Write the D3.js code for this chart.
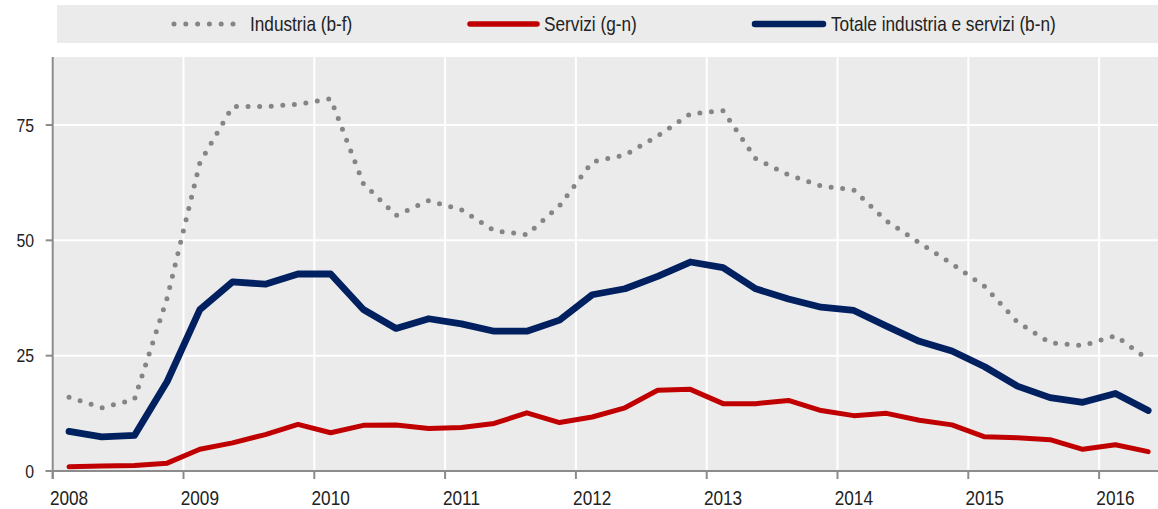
<!DOCTYPE html>
<html><head><meta charset="utf-8">
<script src="https://cdn.jsdelivr.net/npm/d3@7"></script>
<style>
html,body{margin:0;padding:0;background:#fff;}
svg{display:block;font-family:"Liberation Sans",Arial,sans-serif;}
</style></head>
<body>
<svg id="chart" width="1158" height="509"></svg>
<script>
const quarters = [
 "2008-Q1","2008-Q2","2008-Q3","2008-Q4",
 "2009-Q1","2009-Q2","2009-Q3","2009-Q4",
 "2010-Q1","2010-Q2","2010-Q3","2010-Q4",
 "2011-Q1","2011-Q2","2011-Q3","2011-Q4",
 "2012-Q1","2012-Q2","2012-Q3","2012-Q4",
 "2013-Q1","2013-Q2","2013-Q3","2013-Q4",
 "2014-Q1","2014-Q2","2014-Q3","2014-Q4",
 "2015-Q1","2015-Q2","2015-Q3","2015-Q4",
 "2016-Q1","2016-Q2"];
const industria = [16.0,13.7,15.5,37.5, 66.8,79.0,79.0,79.5, 80.7,62.3,55.4,58.6,
  56.6,52.1,51.2,57.5, 67.0,68.5,72.6,77.4, 78.1,67.7,64.2,61.8,
  60.9,54.2,49.5,44.9, 40.0,32.3,27.8,27.2, 29.3,24.2];
const servizi = [0.9,1.1,1.2,1.7, 4.7,6.1,7.9,10.1, 8.3,9.9,9.95,9.2,
  9.45,10.3,12.6,10.5, 11.7,13.7,17.5,17.7, 14.6,14.6,15.3,13.1,
  12.0,12.5,11.0,10.0, 7.4,7.2,6.8,4.7, 5.7,4.2];
const totale = [8.6,7.4,7.7,19.4, 35.0,41.0,40.5,42.7, 42.7,35.0,30.9,33.0,
  31.9,30.3,30.3,32.7, 38.2,39.5,42.2,45.3, 44.1,39.5,37.3,35.5,
  34.8,31.4,28.1,26.0, 22.6,18.4,15.9,14.9, 16.8,13.1];
const seriesNames = ["Industria (b-f)","Servizi (g-n)","Totale industria e servizi (b-n)"];
const yearLabels = ["2008","2009","2010","2011","2012","2013","2014","2015","2016"];
const yTicks = [0,25,50,75];

const svg = d3.select("#chart");
const W = 1158;
const plotL = 52.7, plotR = 1158, plotT = 57, plotB = 471;

const x = d3.scaleLinear().domain([2008, 2016]).range([plotL, 1099.1]);
const y = d3.scaleLinear().domain([0, 75]).range([plotB, 125]);
const qPos = q => { const [yr, qq] = q.split("-Q"); return +yr + (+qq - 0.5) / 4; };
const place = (px, py, s) => `translate(${px},${py}) scale(${s},1)`;

// legend band
svg.append("rect").attr("x", 57).attr("y", 5).attr("width", W - 57).attr("height", 38).attr("fill", "#ebebeb");

// plot background
svg.append("rect").attr("x", plotL).attr("y", plotT).attr("width", plotR - plotL).attr("height", plotB - plotT).attr("fill", "#ebebeb");

// grid
const g = svg.append("g");
g.selectAll("line.hg").data(yTicks.filter(d => d > 0)).join("line")
  .attr("x1", plotL).attr("x2", plotR).attr("y1", d => y(d)).attr("y2", d => y(d))
  .attr("stroke", "#fff").attr("stroke-width", 2);
g.selectAll("line.vg").data(yearLabels.slice(1)).join("line")
  .attr("x1", d => x(+d)).attr("x2", d => x(+d)).attr("y1", plotT).attr("y2", plotB)
  .attr("stroke", "#fff").attr("stroke-width", 2);

// axes
const axisColor = "#8c8c8c";
svg.append("line").attr("x1", plotL).attr("x2", plotL).attr("y1", plotT).attr("y2", plotB + 8)
  .attr("stroke", axisColor).attr("stroke-width", 2);
svg.append("line").attr("x1", plotL - 7).attr("x2", plotR).attr("y1", plotB).attr("y2", plotB)
  .attr("stroke", axisColor).attr("stroke-width", 2);
svg.selectAll("line.yt").data(yTicks).join("line")
  .attr("x1", plotL - 7).attr("x2", plotL).attr("y1", d => y(d)).attr("y2", d => y(d))
  .attr("stroke", axisColor).attr("stroke-width", 2);
svg.selectAll("text.yl").data(yTicks).join("text")
  .attr("transform", d => place(34, y(d) + 6.8, 0.88)).attr("text-anchor", "end")
  .attr("font-size", 18).attr("fill", "#222").text(d => d);
svg.selectAll("line.xt").data(yearLabels).join("line")
  .attr("x1", d => x(+d)).attr("x2", d => x(+d)).attr("y1", plotB).attr("y2", plotB + 8)
  .attr("stroke", axisColor).attr("stroke-width", 2);
svg.selectAll("text.xl").data(yearLabels).join("text")
  .attr("transform", d => place(x(+d + 0.125), 505, 0.82)).attr("text-anchor", "middle")
  .attr("font-size", 21).attr("fill", "#222").text(d => d);

// lines
const line = d3.line().x((d, i) => x(qPos(quarters[i]))).y(d => y(d));
const lg = svg.append("g");
lg.append("path").attr("d", line(industria)).attr("fill", "none")
  .attr("stroke", "#858585").attr("stroke-width", 5).attr("stroke-linecap", "round")
  .attr("stroke-dasharray", "0 11.6");
lg.append("path").attr("d", line(servizi)).attr("fill", "none")
  .attr("stroke", "#c00000").attr("stroke-width", 5).attr("stroke-linecap", "round").attr("stroke-linejoin", "round");
lg.append("path").attr("d", line(totale)).attr("fill", "none")
  .attr("stroke", "#002060").attr("stroke-width", 6.8).attr("stroke-linecap", "round").attr("stroke-linejoin", "round");

// legend
const leg = [
  {x1: 174, x2: 234, tx: 250, color: "#858585", w: 5, dash: "0 11.8"},
  {x1: 470, x2: 537, tx: 544, color: "#c00000", w: 5.5, dash: null},
  {x1: 755, x2: 823, tx: 831, color: "#002060", w: 6.5, dash: null}
];
leg.forEach((l, i) => {
  svg.append("line").attr("x1", l.x1).attr("x2", l.x2).attr("y1", 24).attr("y2", 24)
    .attr("stroke", l.color).attr("stroke-width", l.w).attr("stroke-linecap", "round")
    .attr("stroke-dasharray", l.dash);
  svg.append("text").attr("transform", place(l.tx, 30.5, 0.82)).attr("font-size", 21).attr("fill", "#222").text(seriesNames[i]);
});
</script>
</body></html>
